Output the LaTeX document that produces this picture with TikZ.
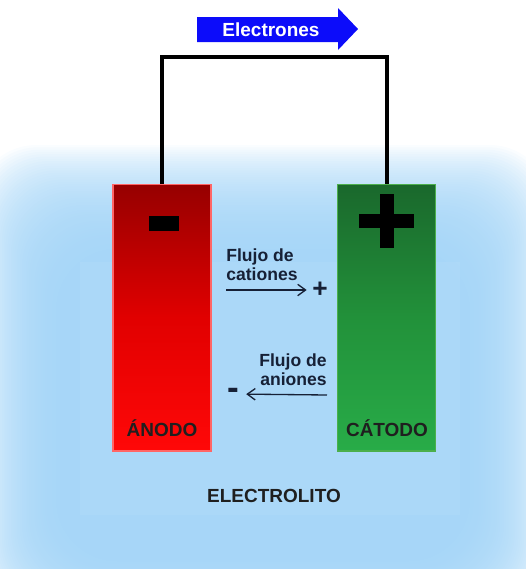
\documentclass[tikz,border=0pt]{standalone}
\usepackage{fontspec}
\setmainfont{Liberation Sans}
\usetikzlibrary{arrows.meta,positioning}
\definecolor{electrolyte}{RGB}{160,211,247}
\definecolor{arrowblue}{RGB}{12,12,250}
\definecolor{anodetop}{RGB}{150,0,0}
\definecolor{anodemid}{RGB}{225,0,0}
\definecolor{anodebot}{RGB}{255,8,8}
\definecolor{cathtop}{RGB}{26,104,44}
\definecolor{cathmid}{RGB}{34,145,58}
\definecolor{cathbot}{RGB}{40,172,72}
\definecolor{ionink}{RGB}{22,32,54}

\begin{document}
\begin{tikzpicture}[x=0.02cm,y=-0.02cm,>={Straight Barb[length=4.5pt,width=6.5pt]},node distance=4.5cm,
  electrode/.style={rectangle,minimum width=1.96cm,minimum height=5.34cm,inner sep=0pt,line width=0.6pt},
  name node/.style={font=\fontsize{10.8}{12}\selectfont\bfseries,text=black!88,inner sep=0pt},
  flow node/.style={font=\fontsize{10}{11}\selectfont\bfseries,text=ionink,inner sep=0pt},
  sign node/.style={font=\fontsize{15}{15}\selectfont\bfseries,text=ionink,inner sep=0pt},
  flow/.style={->,line width=0.75pt,draw=ionink},
  wire/.style={line width=2.4pt,line join=miter}]
  \useasboundingbox (0,0) rectangle (526,569);

  % electrolyte
  \foreach \i in {0,...,47}
    \fill[electrolyte,fill opacity=0.055,rounded corners=35pt] (-25+1.8*\i,145+2.3*\i) rectangle (551-1.8*\i,620-1.3*\i);
  \fill[white,fill opacity=0.05] (80,262) rectangle (460,515);

  % electrons
  \fill[arrowblue] (197,17) -- (338,17) -- (338,8) -- (358,29) -- (338,50) -- (338,42) -- (197,42) -- cycle;
  \node[name node,text=white] (electrones) at (271,30) {Electrones};

  % electrodes
  \node[electrode,top color=anodetop,bottom color=anodebot,middle color=anodemid,draw=red!60!white] (anode) at (162,317.5) {};
  \node[electrode,top color=cathtop,bottom color=cathbot,middle color=cathmid,draw=green!55!black!70!white] (cathode) [right of=anode] {};
  \coordinate (wire top) at (162,57);
  \draw[wire] (anode.north) -- (wire top) -| (cathode.north);

  \fill[black] (149,216) rectangle (179,231);
  \fill[black] (380,194) rectangle (394,248);
  \fill[black] (359,214) rectangle (414,228);

  \node[name node] (anodo) at (162,428) {ÁNODO};
  \node[name node] (catodo) at (387,428) {CÁTODO};
  \node[name node] (electrolito) at (274,496) {ELECTROLITO};

  % ions
  \node[flow node,align=left,anchor=north west] (cationes) at (226,248.5) {Flujo de\\cationes};
  \node[flow node,align=right,anchor=north east] (aniones) at (327,353) {Flujo de\\aniones};
  \node[sign node] (cation) at (320,290) {+};
  \node[sign node,font=\fontsize{20}{20}\selectfont\bfseries] (anion) at (233,394) {-};
  \coordinate (cation tail) at (226,290);
  \coordinate (anion tail) at (327,395);
  \draw[flow,shorten >=3pt] (cation tail) -- (cation);
  \draw[flow,shorten >=4pt] (anion tail) -- (anion);
\end{tikzpicture}
\end{document}
